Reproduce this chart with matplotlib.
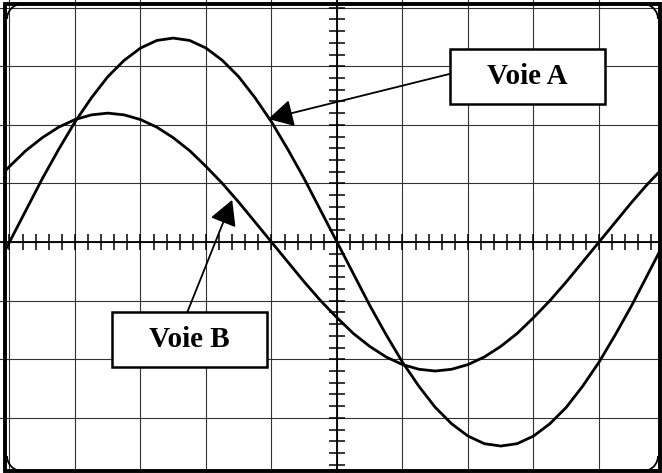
import matplotlib
matplotlib.use("Agg")
import matplotlib.pyplot as plt
from matplotlib.patches import Rectangle, Arc

# time axis in screen divisions (0.25 div steps)
t = [-5.25, -5.0, -4.75, -4.5, -4.25, -4.0, -3.75, -3.5, -3.25, -3.0, -2.75,
     -2.5, -2.25, -2.0, -1.75, -1.5, -1.25, -1.0, -0.75, -0.5, -0.25, 0.0,
     0.25, 0.5, 0.75, 1.0, 1.25, 1.5, 1.75, 2.0, 2.25, 2.5, 2.75, 3.0, 3.25,
     3.5, 3.75, 4.0, 4.25, 4.5, 4.75, 5.0, 5.25]

# voie A (divisions)
voie_a = [-0.54, 0.0, 0.54, 1.08, 1.58, 2.05, 2.46, 2.82, 3.10, 3.31, 3.44,
          3.48, 3.44, 3.31, 3.10, 2.82, 2.46, 2.05, 1.58, 1.08, 0.54, 0.0,
          -0.54, -1.08, -1.58, -2.05, -2.46, -2.82, -3.10, -3.31, -3.44,
          -3.48, -3.44, -3.31, -3.10, -2.82, -2.46, -2.05, -1.58, -1.08,
          -0.54, 0.0, 0.54]

# voie B (divisions)
voie_b = [1.00, 1.29, 1.56, 1.78, 1.96, 2.09, 2.17, 2.20, 2.17, 2.09, 1.96,
          1.78, 1.56, 1.29, 1.00, 0.68, 0.34, 0.0, -0.34, -0.68, -1.00, -1.29,
          -1.56, -1.78, -1.96, -2.09, -2.17, -2.20, -2.17, -2.09, -1.96,
          -1.78, -1.56, -1.29, -1.00, -0.68, -0.34, 0.0, 0.34, 0.68, 1.00,
          1.29, 1.56]

labels = ["Voie A", "Voie B"]

W, H = 662, 473
fig = plt.figure(figsize=(W / 100, H / 100), dpi=100)
ax = fig.add_axes([0, 0, 1, 1])
ax.set_xlim(-5.145, 4.962)
ax.set_ylim(-3.94, 4.13)
ax.axis("off")

# overlay in pixel coordinates for the screen frame
fr = fig.add_axes([0, 0, 1, 1])
fr.set_xlim(0, W)
fr.set_ylim(H, 0)
fr.axis("off")
fr.patch.set_alpha(0)
screen = Rectangle((5, 4), 655, 467, fill=False, ec="black", lw=2.8)
fr.add_patch(screen)

# graticule
for k in range(-5, 6):
    ax.axvline(k, color="#333333", lw=0.8, zorder=1)
for k in range(-4, 5):
    ax.axhline(k, color="#333333", lw=0.8, zorder=1)

# minor ticks on the centre axes
minor = [i / 5 for i in range(-26, 27)]
ax.vlines(minor, -0.14, 0.14, color="black", lw=1.1, zorder=2)
ax.axhline(0, color="black", lw=1.3, zorder=2)
minor_y = [i / 5 for i in range(-21, 22)]
ax.hlines(minor_y, -0.125, 0.125, color="black", lw=1.1, zorder=2)
ax.axvline(0, color="black", lw=1.3, zorder=2)

# traces, clipped to the screen
for y in (voie_a, voie_b):
    ln, = ax.plot(t, y, color="black", lw=2.0, zorder=3)
    ln.set_clip_path(screen)

# label boxes
font = dict(family="Liberation Serif", weight="bold", size=21)
ax.add_patch(Rectangle((1.725, 2.36), 2.37, 0.94, fc="white", ec="black",
                       lw=1.8, zorder=5))
ax.text(2.91, 2.83, labels[0], ha="center", va="center", zorder=6, **font)
ax.add_patch(Rectangle((-3.435, -2.14), 2.37, 0.94, fc="white", ec="black",
                       lw=1.8, zorder=5))
ax.text(-2.25, -1.67, labels[1], ha="center", va="center", zorder=6, **font)

arrow = dict(arrowstyle="-|>,head_length=0.55,head_width=0.3",
             mutation_scale=28, lw=1.3, color="black", shrinkA=0, shrinkB=0)
ax.annotate("", xy=(-1.05, 2.10), xytext=(1.725, 2.87), arrowprops=arrow,
            zorder=4)
ax.annotate("", xy=(-1.60, 0.72), xytext=(-2.29, -1.21), arrowprops=arrow,
            zorder=4)

# rounded inner corners
r = 30
for (cx, cy, a1, a2) in [(22, 19, 180, 270), (643, 19, 270, 360),
                         (22, 456, 90, 180), (643, 456, 0, 90)]:
    fr.add_patch(Arc((cx, cy), r, r, theta1=a1, theta2=a2, color="black",
                     lw=1.3))

fig.savefig("out.png", dpi=100)
